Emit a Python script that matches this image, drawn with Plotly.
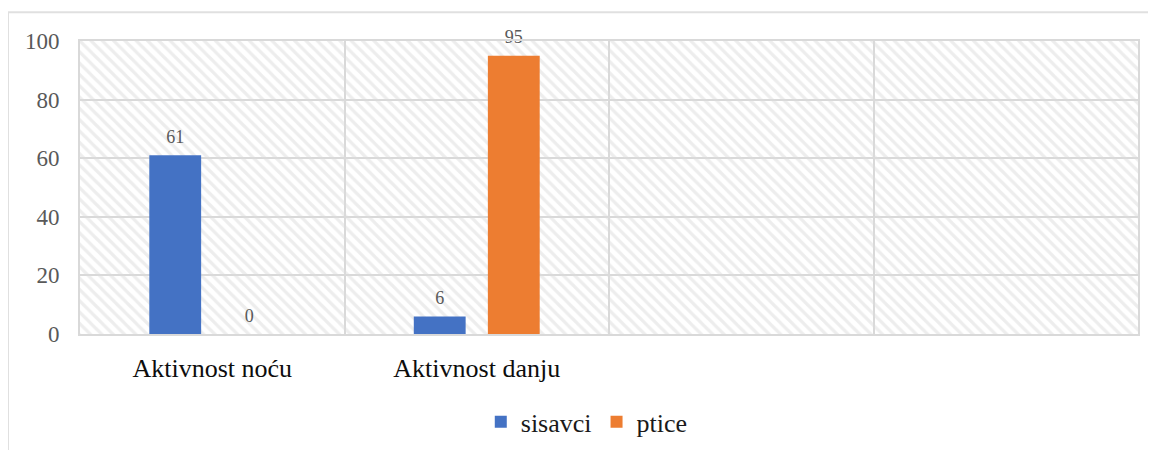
import plotly.graph_objects as go

categories = ["Aktivnost noću", "Aktivnost danju", " ", "  "]
series_names = ["sisavci", "ptice"]
sisavci = [61, 6, None, None]
ptice = [0, 95, None, None]
y_ticks = [0, 20, 40, 60, 80, 100]

colors = ["#4472C4", "#ED7D31"]
FONT = "Liberation Serif"
GRID = "#d9d9d9"

# page body has an 8px margin; figure coordinates are offset accordingly
ML, MT = 72, 33
PW, PH = 1058, 295
W, H = 1156, 450
BARGAP = 0.44

fig = go.Figure()

# decorative hatched plot background on hidden primary axes
fig.add_trace(go.Bar(
    x=[0.5], y=[1], width=[1], xaxis="x", yaxis="y",
    marker=dict(color="rgba(0,0,0,0)", line=dict(width=0),
                pattern=dict(shape="\\", fgcolor="#dcdcdc", bgcolor="rgba(0,0,0,0)",
                             size=8, solidity=0.4, fillmode="overlay")),
    showlegend=False, hoverinfo="skip",
))

for name, vals, col in zip(series_names, [sisavci, ptice], colors):
    fig.add_trace(go.Bar(
        name=name, x=categories, y=vals, xaxis="x2", yaxis="y2",
        marker=dict(color=col, line=dict(width=0)),
    ))

# data labels, grouped the same way as the bars
for name, vals in zip(series_names, [sisavci, ptice]):
    fig.add_trace(go.Scatter(
        x=categories, y=vals, xaxis="x2", yaxis="y2",
        mode="markers+text", text=[("" if v is None else str(v)) for v in vals],
        textposition="top center",
        marker=dict(size=11, color="rgba(0,0,0,0)"),
        textfont=dict(family=FONT, size=18, color="#595959"),
        cliponaxis=False, showlegend=False, hoverinfo="skip", name=name + " labels",
    ))

top_y = (PH + MT - 4) / PH
left_x = -ML / PW

fig.update_layout(
    width=W, height=H,
    margin=dict(l=ML, r=W - ML - PW, t=MT, b=H - MT - PH),
    paper_bgcolor="white", plot_bgcolor="white",
    barmode="group", bargap=BARGAP, bargroupgap=0.3,
    scattermode="group", scattergap=BARGAP,
    font=dict(family=FONT, color="#595959"),
    xaxis=dict(range=[0, 1], visible=False, fixedrange=True),
    yaxis=dict(range=[0, 1], visible=False, fixedrange=True),
    xaxis2=dict(overlaying="x", type="category", categoryorder="array",
                categoryarray=categories, tickson="boundaries",
                showgrid=True, gridcolor=GRID, gridwidth=2,
                showline=True, linecolor=GRID, linewidth=2, mirror=True,
                ticks="", ticklabelstandoff=10,
                tickfont=dict(family=FONT, size=26, color="#0d0d0d")),
    yaxis2=dict(overlaying="y", range=[0, 100], tickvals=y_ticks,
                showgrid=True, gridcolor=GRID, gridwidth=2,
                showline=True, linecolor=GRID, linewidth=2, mirror=True,
                zeroline=False, ticks="", ticklabelstandoff=14,
                tickfont=dict(family=FONT, size=23, color="#595959")),
    legend=dict(orientation="h", x=0.479, xanchor="center", y=-0.30, yanchor="middle",
                font=dict(family=FONT, size=26, color="#1a1a1a"),
                itemwidth=30, traceorder="normal"),
    shapes=[dict(type="line", xref="paper", yref="paper",
                 x0=left_x, x1=1.2, y0=top_y, y1=top_y,
                 line=dict(color="#e0e0e0", width=2)),
            dict(type="line", xref="paper", yref="paper",
                 x0=left_x, x1=left_x, y0=-0.6, y1=top_y,
                 line=dict(color="#e0e0e0", width=2))],
)

fig.write_html("out.html")
